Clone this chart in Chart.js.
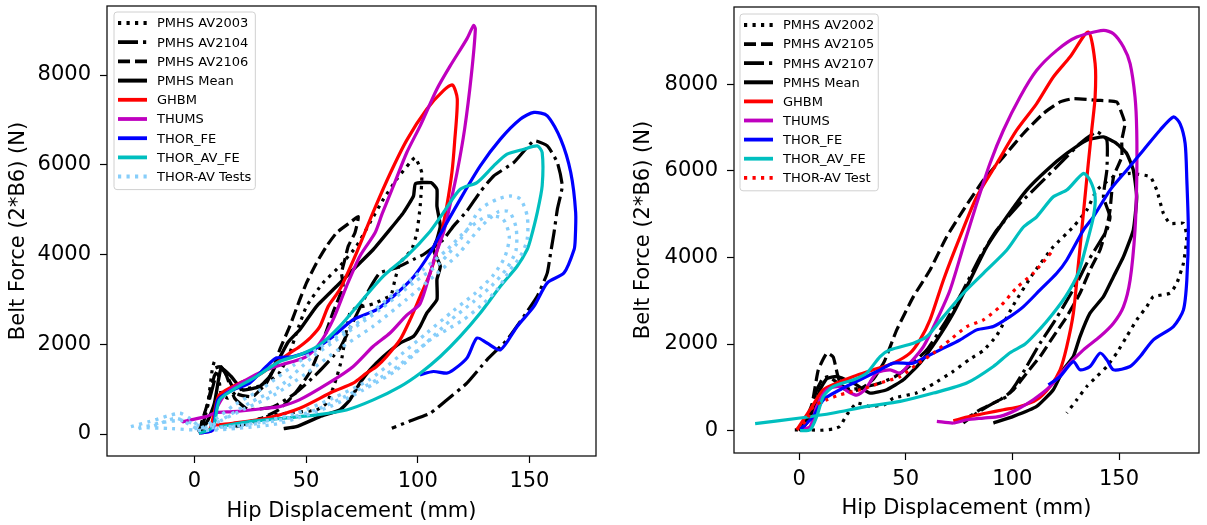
<!DOCTYPE html>
<html lang="en">
<head>
<meta charset="UTF-8">
<title>Belt Force vs Hip Displacement</title>
<script src="https://cdn.jsdelivr.net/npm/chart.js"></script>
<style>
  body { margin: 0; background: #fff; width: 1207px; height: 525px; overflow: hidden; position: relative; }
  .panel { position: absolute; top: 0; height: 525px; }
  #leftBox { left: 0; width: 603px; }
  #rightBox { left: 603px; width: 604px; }
</style>
</head>
<body>
<div class="panel" id="leftBox"><canvas id="leftChart"></canvas></div>
<div class="panel" id="rightBox"><canvas id="rightChart"></canvas></div>
<script>
// tick values shared by both panels
const xTicks = [0, 50, 100, 150];
const yTicks = [0, 2000, 4000, 6000, 8000];

// ---- left panel: [hip displacement mm, belt force N] ----
const leftAV2003 = [[2,60],[6,686],[8,1430],[9,1616],[10.5,1430],[12,900],[15,800],[20,983],[28,1050],[34,1200],[38,1356],[42.7,1803],[45.7,2250],[50.2,2845],[57.6,3368],[65.1,3739],[72.6,4186],[78.6,4709],[84.6,5230],[90.6,5677],[96.6,6050],[98.8,6162],[101.8,5827],[101.1,5080],[99.6,4486],[97.3,4112],[92.1,3815],[89.8,3442],[88,3100],[80,2900],[72,2800],[69.6,2697],[67.4,2101],[65.9,1654],[62.9,1133],[59.2,686],[54.7,536],[45,480],[35.2,425],[25,280],[17.2,163]];
const leftAV2104 = [[3,50],[8,1000],[11,1500],[14,1350],[18,800],[24,550],[35,600],[45,900],[55,1350],[65,1900],[72,2600],[78,3200],[83,3590],[90.6,3703],[98,3890],[102.6,4000],[111.5,4336],[116,4633],[122,4969],[128,5400],[134,5751],[143,6050],[152,6533],[158,6421],[162.5,6050],[164.7,5527],[162.5,5006],[161,4486],[159.5,4039],[158,3591],[153.5,3069],[147.5,2622],[140,2101],[131,1654],[122,1133],[113,760],[105.6,462],[96,280],[88.4,127]];
const leftAV2106 = [[2,40],[6,700],[9,1300],[12,1500],[15,1250],[19,900],[26,834],[32.2,1133],[35.2,1430],[38.2,1877],[42.7,2398],[47.2,2995],[50.2,3368],[54.7,3815],[59.2,4186],[63.7,4486],[69.6,4709],[73.4,4843],[71.9,4486],[68.9,4186],[67.4,3889],[65.9,3591],[66.6,3292],[62,2700],[57,2000],[52,1400],[45,900],[38,550],[28,300],[18,150]];
const leftMean = [[3,30],[6,300],[9,686],[12,1468],[16.5,1281],[21.7,983],[29.2,1057],[34,1300],[38.2,1700],[42,2050],[47.2,2324],[54.7,2845],[63.7,3292],[72.6,3739],[80.1,4112],[87.6,4559],[93.6,4933],[98.1,5304],[99,5580],[106,5600],[108.6,5453],[108.6,5080],[110.1,4633],[108.6,4336],[107,4112],[110.1,3739],[108.6,3442],[108.6,2995],[104.1,2697],[101.1,2398],[98.1,2175],[92.1,2027],[84.6,1728],[78.6,1430],[74.1,1133],[69.6,760],[65.1,536],[56.2,387],[45.7,163],[40,120]];
const leftGHBM = [[2,20],[6.7,89],[9,500],[11.2,872],[20.2,1133],[27.7,1281],[36.7,1580],[42.7,1803],[47.2,1951],[52,2150],[56.2,2398],[60,2850],[65.1,3218],[72.6,4039],[80.1,4950],[87.6,5800],[95.1,6550],[104.1,7241],[111.5,7651],[115.5,7778],[117.7,7465],[116.5,6500],[115.3,5827],[113,5080],[110,4336],[105.6,3591],[101.1,3069],[96.6,2548],[92.1,2101],[86.1,1728],[81.6,1504],[77.1,1356],[71.1,1133],[62.1,946],[47.2,574],[32.2,351],[17.2,239],[9.7,201]];
const leftTHUMS = [[3,20],[8.2,89],[9.7,536],[14.2,910],[23.2,1207],[32.2,1430],[40,1560],[44.2,1616],[50.2,1728],[56.2,2027],[62.1,2548],[68.1,3292],[74.1,3963],[80.9,4486],[84,4900],[89.1,5527],[95.1,6273],[101.1,6868],[108.6,7688],[114.6,8209],[122,8806],[125,9103],[125.8,9029],[124,8000],[121,6800],[117.6,5827],[114,5000],[111.5,4486],[108,4000],[105.6,3600],[101,2900],[95.1,2650],[87.6,2250],[80,1950],[71,1500],[60.6,1150],[47,760],[38.2,610],[32.2,574],[17.2,498],[9.7,475],[5.2,387],[-5.2,275],[-5.6,250]];
const leftTHORFE = [[2,20],[8.2,89],[10.5,760],[17.2,983],[24.7,1133],[32.2,1504],[36.7,1692],[44.2,1728],[53.2,1877],[62.1,2175],[71.1,2548],[81.6,2771],[89.1,3069],[98.1,3500],[105.6,4039],[110.1,4450],[119,5230],[128,5974],[137,6571],[146,7018],[152,7167],[158,7092],[164,6571],[168.5,5827],[170.7,4932],[170.5,4336],[170,4112],[165.5,3591],[158,3368],[152,2845],[144.5,2398],[137,1877],[131,2027],[126.5,2138],[122,1692],[116,1430],[113,1356],[107,1393],[101,1319]];
const leftTHORAVFE = [[2,20],[7,100],[9,239],[11.2,760],[17.2,983],[27.7,1281],[38.2,1616],[47.2,1766],[56.2,1989],[65.1,2398],[74.1,2921],[84.6,3516],[95.1,3963],[105.6,4520],[111.5,4933],[119,5453],[126.5,5603],[134,5974],[140,6236],[147.5,6347],[153.5,6421],[155.7,6273],[155.7,5527],[153.5,4933],[150.5,4336],[149,4112],[144.5,3739],[137,3292],[128,2697],[119,2175],[110.1,1728],[101.1,1356],[92.1,1057],[80.1,760],[68.1,536],[54.7,425],[39.7,351],[24.7,275],[11.2,163]];
const leftTest1 = [[-28.4,163],[-20.2,275],[-6.7,462],[-2,350],[3,150],[8,200],[15,400],[25,700],[38.2,1057],[53.2,1728],[68.1,2250],[83.1,2771],[98.1,3368],[110,3815],[120,4400],[128,5006],[135.5,5230],[141.5,5304],[146,5230],[149,4857],[149,4336],[146,3963],[141.5,3665],[135.5,3218],[128,2845],[120.5,2548],[113,2324],[105.6,2101],[90.6,1430],[75.6,983],[60.6,610],[38.2,239],[20,130],[5,80],[-10,120],[-25,150]];
const leftTest2 = [[-25,120],[-15,250],[-5,300],[5,150],[12,300],[22,550],[35,850],[50,1350],[65,1900],[80,2400],[95,3000],[108,3550],[118,4000],[128,4600],[136,4950],[141,4950],[144,4600],[144,4100],[140,3700],[133,3300],[125,2950],[115,2550],[103,2000],[88,1400],[72,950],[55,550],[40,330],[20,180],[0,120]];
const leftTest3 = [[-18,180],[-8,350],[2,120],[10,350],[18,650],[30,1000],[45,1550],[60,2050],[75,2550],[90,3150],[102,3650],[113,4100],[122,4550],[131,4850],[138,4800],[141,4400],[139,3950],[134,3550],[126,3150],[116,2750],[104,2250],[92,1750],[78,1200],[62,800],[45,450],[28,250],[10,120]];

// ---- right panel ----
const rightAV2002 = [[-2,20],[5,20],[10,10],[16,39],[19.2,100],[22.4,369],[27,637],[33,560],[40,600],[44.2,750],[55,870],[63,1080],[72.3,1370],[80,1650],[86.4,1850],[92.7,2200],[100.5,2900],[109.8,3633],[119.2,4246],[128.6,4707],[134.9,5092],[139.6,5553],[147.4,5860],[155.2,5937],[164.6,5860],[167.7,5553],[170.8,5016],[173.9,4785],[180.2,4785],[181.8,4477],[180.2,3864],[177.1,3403],[173.9,3172],[166.1,3094],[163,2864],[158.3,2557],[153.6,2173],[148.9,1790],[144.3,1482],[139.6,1251],[134.9,1021],[130.2,714],[125.5,408]];
const rightAV2105 = [[1,20],[6,600],[9,1400],[13,1790],[16,1700],[18,1300],[20,1000],[25,900],[30,1000],[35,1200],[40,1600],[45.8,2327],[53.6,3094],[61.4,3709],[69.2,4477],[77,5092],[86.4,5783],[95.8,6320],[105.2,6859],[114.5,7320],[122.4,7588],[128.6,7665],[139.6,7626],[148.9,7588],[151.3,7320],[152.8,7089],[151.3,6705],[151.3,6320],[147.4,5860],[145.8,5092],[144.3,4707],[141.1,4170],[136.4,3709],[131.7,3172],[125.5,2633],[119.2,2173],[113,1712],[106.7,1329],[100.5,945],[94.2,714],[84.9,484],[80,330]];
const rightAV2107 = [[1,30],[5,400],[8,900],[11,1200],[14,1250],[18,1100],[24,950],[30,1000],[38,1100],[45,1250],[52,1500],[59.9,1866],[69.2,2557],[77,3249],[84.9,4016],[92.7,4631],[103.6,5246],[113,5707],[122.4,6168],[131.7,6628],[139.6,6897],[144.3,6705],[144.3,6013],[142.7,5398],[145.8,4937],[144.3,4631],[139.6,4246],[134.9,3864],[130.2,3403],[123.9,2864],[119.2,2481],[113,2020],[106.7,1482],[102,1099],[97.4,791],[91.1,637],[83.3,408],[77,177]];
const rightMean = [[0,0],[3.6,177],[7.5,560],[9.8,945],[13,1200],[17.7,1251],[25.5,1099],[33.3,868],[41.1,945],[48.9,1175],[56.7,1560],[64.6,2097],[72.3,2712],[80.2,3479],[88,4246],[97.4,4937],[106.7,5553],[116.1,6013],[125.5,6398],[134.9,6705],[142.7,6781],[148.9,6628],[153.6,6398],[156.7,6013],[158.3,5398],[156.7,4631],[152.1,4016],[147.4,3555],[142.7,3094],[136.4,2712],[131.7,2173],[128.6,1712],[123.9,1405],[119.2,945],[111.4,560],[100.5,330],[91.1,177]];
const rightGHBM = [[-1,23],[5.2,484],[11.4,945],[17.7,1099],[25.5,1251],[34.8,1405],[44.2,1560],[52,1790],[56.7,2097],[61.4,2557],[67.7,3479],[75.5,4477],[83.3,5398],[92.7,6168],[102,6935],[111.4,7550],[119.2,8163],[127,8624],[135.6,9200],[138.8,8472],[138.8,7703],[137.2,6935],[135.6,6168],[133.3,5016],[131,3864],[128.6,2712],[125.5,1942],[122.4,1405],[117.7,1021],[111.4,714],[103.6,560],[95.8,484],[88,408],[80.2,330],[72.3,230]];
const rightTHUMS = [[0.5,23],[5.2,100],[8.3,560],[13,945],[19.2,1021],[23,900],[27,820],[31,950],[36.4,1329],[42.7,1405],[47.4,1329],[52,1559],[58.3,1942],[64.6,2557],[70.8,3249],[77,4246],[83.3,5246],[89.5,6168],[95.8,6935],[103.6,7703],[111.4,8317],[120.8,8778],[130.2,9085],[142.7,9239],[147.4,9162],[152.1,8855],[155.2,8472],[157.5,7703],[158.3,6935],[158.3,5783],[157.5,4631],[155.2,3479],[152.1,2864],[147.4,2481],[141.1,2173],[133.3,1866],[125.5,1482],[117.7,1021],[109.8,714],[102,484],[94.2,330],[86.4,292],[78.6,253],[72.3,177],[64.6,215]];
const rightTHORFE = [[0.5,23],[6.7,330],[11.4,714],[19.2,945],[28.6,1175],[38,1405],[44.2,1560],[53.6,1560],[59.9,1712],[66.1,1866],[75.5,2097],[83.3,2327],[91.1,2403],[98.9,2633],[105.2,2864],[113,3249],[120.8,3633],[125.5,3940],[133.3,4631],[138,4937],[145.8,5553],[153.6,6013],[161.4,6474],[169.2,6935],[175.5,7242],[178.6,7089],[181,6628],[181.8,5783],[182.5,4631],[181.8,3479],[180.2,2788],[175.5,2403],[166.1,2097],[159.9,1712],[155.2,1482],[147.4,1405],[144.3,1636],[141.1,1790],[136.4,1482],[131.7,1405],[128.6,1597],[122.4,1251],[116.9,1060]];
const rightTHORAVFE = [[0.5,0],[5.2,23],[8.3,330],[11.4,791],[16.1,1021],[25.5,1175],[31.7,1329],[38,1712],[42.7,1866],[53.6,2020],[59.9,2173],[67.7,2633],[77,3172],[86.4,3633],[97.4,4170],[105.2,4700],[111.4,4937],[119.2,5398],[125.5,5553],[133.3,5937],[136.4,5783],[138.8,5398],[138,4937],[134.9,4324],[131,3650],[125,3100],[119,2700],[113,2350],[106,2000],[98.9,1800],[91.1,1482],[78.6,1099],[63,868],[47.4,676],[31.7,560],[16.1,408],[0.5,292],[-20.6,161]];
const rightTHORAVTest = [[-1.1,23],[3.6,253],[6.7,560],[13,714],[19.2,829],[28.6,945],[38,1099],[47.4,1251],[55.2,1530],[63,1790],[70.8,2097],[78.6,2400],[86.4,2557],[94.2,2864],[102,3300],[109.8,3633],[119.2,4170]];

// line styles (matplotlib-like, scaled to line width)
const DOT = [3.2, 5.3];
const DASH = [12, 5];
const DASHDOT = [20, 5, 3.2, 5];
const MAGENTA = '#bf00bf';
const CYAN = '#00bfbf';
const SKY = '#87cefa';

function series(label, pts, color, dash, width, extra) {
  return Object.assign({
    label: label,
    data: pts.map(p => ({ x: p[0], y: p[1] })),
    borderColor: color,
    backgroundColor: color,
    borderWidth: width || 3.2,
    borderDash: dash || [],
    borderJoinStyle: 'round',
    showLine: true,
    fill: false,
    pointRadius: 0,
    tension: 0.25
  }, extra || {});
}

// frame around the plot area (all four spines)
const frame = {
  id: 'frame',
  afterDatasetsDraw(chart) {
    const a = chart.chartArea, ctx = chart.ctx;
    ctx.save();
    ctx.strokeStyle = '#111';
    ctx.lineWidth = 1.3;
    ctx.strokeRect(a.left, a.top, a.right - a.left, a.bottom - a.top);
    ctx.restore();
  }
};

// matplotlib style legend box in the upper left of the plot
const boxLegend = {
  id: 'boxLegend',
  afterDatasetsDraw(chart, args, opts) {
    const ctx = chart.ctx, a = chart.chartArea;
    const items = chart.data.datasets.filter(d => !d.noLegend);
    ctx.save();
    ctx.font = '13px "DejaVu Sans"';
    const textW = Math.max(...items.map(d => ctx.measureText(d.label).width));
    const x0 = a.left + opts.dx, y0 = a.top + opts.dy;
    const w = 43 + textW + 4, h = 11 + (items.length - 1) * opts.row + 13;
    ctx.beginPath();
    ctx.roundRect(x0, y0, w, h, 3);
    ctx.fillStyle = 'rgba(255,255,255,0.8)';
    ctx.fill();
    ctx.strokeStyle = '#d0d0d0';
    ctx.lineWidth = 1;
    ctx.stroke();
    items.forEach((d, i) => {
      const cy = y0 + 11 + i * opts.row;
      ctx.strokeStyle = d.borderColor;
      ctx.lineWidth = d.borderWidth + 0.6;
      ctx.setLineDash(d.borderDash);
      ctx.beginPath();
      ctx.moveTo(x0 + 4, cy);
      ctx.lineTo(x0 + 33, cy);
      ctx.stroke();
      ctx.setLineDash([]);
      ctx.fillStyle = '#000';
      ctx.textBaseline = 'middle';
      ctx.fillText(d.label, x0 + 43, cy + 1);
    });
    ctx.restore();
  }
};

Chart.defaults.font.family = "'DejaVu Sans', sans-serif";
Chart.defaults.color = '#000';

function buildChart(id, sets, g) {
  sets.forEach((s, i) => { s.order = sets.length - i; });
  return new Chart(document.getElementById(id), {
    type: 'scatter',
    data: { datasets: sets },
    options: {
      responsive: true,
      maintainAspectRatio: false,
      animation: false,
      events: [],
      layout: { padding: g.pad },
      plugins: {
        legend: { display: false },
        tooltip: { enabled: false },
        boxLegend: g.legend
      },
      scales: {
        x: {
          type: 'linear', min: g.xMin, max: g.xMax,
          afterBuildTicks: s => { s.ticks = xTicks.map(v => ({ value: v })); },
          afterFit: s => { s.height = g.xH; s.paddingLeft = 0; s.paddingRight = 0; },
          ticks: { padding: g.xPad, font: { size: 21 }, maxRotation: 0, autoSkip: false, callback: v => String(v) },
          grid: { drawOnChartArea: false, tickLength: 7, tickWidth: 1.2, tickColor: '#000' },
          border: { display: false },
          title: { display: true, text: 'Hip Displacement (mm)', font: { size: 21 }, padding: { top: 0, bottom: g.xTitlePad } }
        },
        y: {
          type: 'linear', min: g.yMin, max: g.yMax,
          afterBuildTicks: s => { s.ticks = yTicks.map(v => ({ value: v })); },
          afterFit: s => { s.width = g.yW; s.paddingTop = 0; s.paddingBottom = 0; },
          ticks: { padding: 9, font: { size: 21 }, autoSkip: false, callback: v => String(v) },
          grid: { drawOnChartArea: false, tickLength: 7, tickWidth: 1.2, tickColor: '#000' },
          border: { display: false },
          title: { display: true, text: 'Belt Force (2*B6) (N)', font: { size: 21 }, padding: { top: 0, bottom: 0 } }
        }
      }
    },
    plugins: [frame, boxLegend]
  });
}

buildChart('leftChart', [
  series('PMHS AV2003', leftAV2003, '#000', DOT, 3.2, { tension: 0.15 }),
  series('PMHS AV2104', leftAV2104, '#000', DASHDOT, 3.2, { tension: 0.15 }),
  series('PMHS AV2106', leftAV2106, '#000', DASH, 3.2, { tension: 0.15 }),
  series('PMHS Mean', leftMean, '#000', [], 3.4, { tension: 0.15 }),
  series('GHBM', leftGHBM, '#ff0000'),
  series('THUMS', leftTHUMS, MAGENTA),
  series('THOR_FE', leftTHORFE, '#0000ff'),
  series('THOR_AV_FE', leftTHORAVFE, CYAN),
  series('THOR-AV Tests', leftTest1, SKY, DOT, 3.4),
  series('THOR-AV Tests', leftTest2, SKY, DOT, 3.4, { noLegend: true }),
  series('THOR-AV Tests', leftTest3, SKY, DOT, 3.4, { noLegend: true })
], {
  pad: { left: 6, top: 6, right: 7, bottom: 0 },
  xMin: -39.1, xMax: 179.8, yMin: -490, yMax: 9538,
  xH: 69, yW: 101, xPad: 6, xTitlePad: 1,
  legend: { dx: 7, dy: 6, row: 19.2 }
});

buildChart('rightChart', [
  series('PMHS AV2002', rightAV2002, '#000', DOT, 3.2, { tension: 0.15 }),
  series('PMHS AV2105', rightAV2105, '#000', DASH, 3.2, { tension: 0.15 }),
  series('PMHS AV2107', rightAV2107, '#000', DASHDOT, 3.2, { tension: 0.15 }),
  series('PMHS Mean', rightMean, '#000', [], 3.4, { tension: 0.15 }),
  series('GHBM', rightGHBM, '#ff0000'),
  series('THUMS', rightTHUMS, MAGENTA),
  series('THOR_FE', rightTHORFE, '#0000ff'),
  series('THOR_AV_FE', rightTHORAVFE, CYAN),
  series('THOR-AV Test', rightTHORAVTest, '#ff0000', DOT, 3.2)
], {
  pad: { left: 28, top: 7, right: 8, bottom: 0 },
  xMin: -30.5, xMax: 187.5, yMin: -515, yMax: 9779,
  xH: 72, yW: 103, xPad: 7, xTitlePad: 4,
  legend: { dx: 6, dy: 7, row: 19.1 }
});
</script>
</body>
</html>
